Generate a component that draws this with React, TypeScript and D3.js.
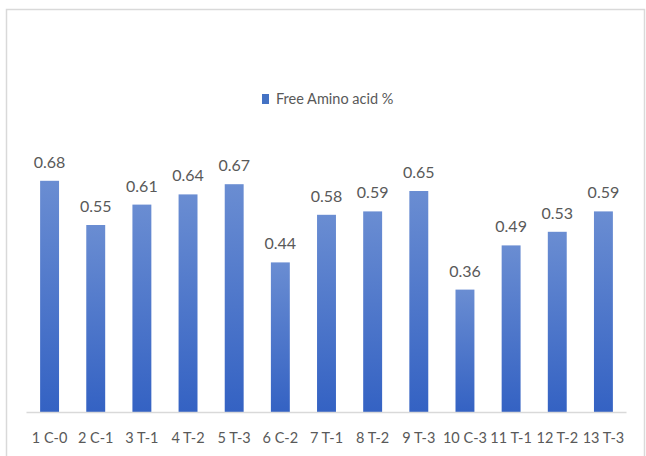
import React from "react";
import * as d3 from "d3";

const categories = ["1 C-0", "2 C-1", "3 T-1", "4 T-2", "5 T-3", "6 C-2", "7 T-1", "8 T-2", "9 T-3", "10 C-3", "11 T-1", "12 T-2", "13 T-3"];
const values = [0.68, 0.55, 0.61, 0.64, 0.67, 0.44, 0.58, 0.59, 0.65, 0.36, 0.49, 0.53, 0.59];
const seriesName = "Free Amino acid %";

const W = 646;
const H = 456;
const FONT = "Lato, 'Open Sans', sans-serif";

export default function App() {
  const x = d3.scaleBand<string>().domain(categories).range([26.5, 626.5]).paddingInner(0.59).paddingOuter(0.295);
  const y = d3.scaleLinear().domain([0, 0.8]).range([412, 140]);

  return (
    <svg width={W} height={H} style={{ position: "absolute", left: 0, top: 0, background: "#fff" }}>
      <defs>
        <linearGradient id="barGrad" x1="0" y1="0" x2="0" y2="1">
          <stop offset="0" stopColor="#6a8dd2" />
          <stop offset="1" stopColor="#3462c3" />
        </linearGradient>
      </defs>
      <rect x={6.5} y={9.5} width={638} height={460} fill="#fff" stroke="#d9d9d9" strokeWidth={1.5} />

      <g>
        <rect x={262} y={94} width={7} height={10} fill="#4472c4" />
        <text x={276} y={104} fontFamily={FONT} fontSize={14.5} fill="#595959">{seriesName}</text>
      </g>

      {categories.map((c, i) => (
        <g key={c}>
          <rect x={x(c)} y={y(values[i])} width={x.bandwidth()} height={y(0) - y(values[i])} fill="url(#barGrad)" />
          <text x={x(c)! + x.bandwidth() / 2} y={y(values[i]) - 13} textAnchor="middle" fontFamily={FONT} fontSize={16} fill="#595959">
            {values[i].toFixed(2)}
          </text>
          <text x={x(c)! + x.bandwidth() / 2} y={443} textAnchor="middle" fontFamily={FONT} fontSize={14.5} fill="#595959">
            {c}
          </text>
        </g>
      ))}
      <line x1={26.5} x2={626.5} y1={412.5} y2={412.5} stroke="#d9d9d9" strokeWidth={1.5} />
    </svg>
  );
}
